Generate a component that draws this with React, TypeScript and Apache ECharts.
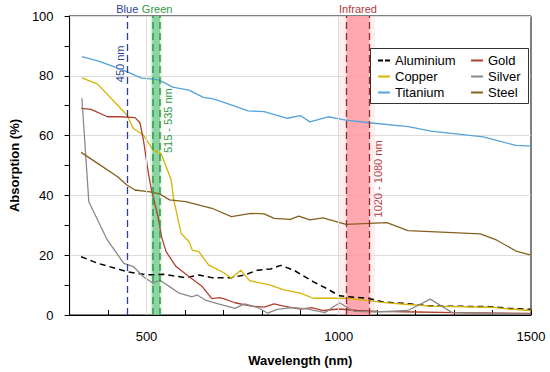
import React, { useEffect, useRef } from "react";
import * as echarts from "echarts";

// ---- data (wavelength in nm, absorption in %) ----
const wlAluminium = [330, 373, 449, 500, 543, 602, 636, 670, 721, 755, 789, 823, 849, 883, 934, 968, 1002, 1044, 1079, 1112, 1171, 1240, 1393, 1444, 1500];
const valAluminium = [19.5, 17.3, 14.5, 13.4, 13.6, 12.5, 13.4, 12.5, 12.5, 13.4, 15, 15.4, 16.6, 15, 11.1, 8.9, 6.4, 5.9, 5.5, 4.4, 3.9, 3.0, 2.8, 2.2, 1.9];

const wlCopper = [332, 373, 449, 466, 492, 517, 538, 550, 564, 571, 590, 611, 619, 636, 662, 700, 721, 745, 768, 823, 857, 900, 934, 1019, 1079, 1112, 1171, 1240, 1393, 1444, 1500];
const valCopper = [79.3, 77.2, 66.9, 62.4, 60.2, 55.2, 54, 50, 45.2, 38.5, 27.3, 24.5, 21.7, 21.2, 16.7, 14.2, 12.3, 15, 11.5, 10, 8.4, 7.3, 5.6, 5.6, 4.8, 4.2, 3.6, 3.0, 2.6, 2.0, 1.5];

const wlTitanium = [332, 373, 410, 449, 487, 526, 545, 568, 610, 648, 674, 722, 764, 806, 853, 866, 900, 925, 972, 1019, 1079, 1181, 1240, 1376, 1461, 1500];
const valTitanium = [86.4, 85, 83.3, 81.4, 79.2, 78.8, 77.8, 76.2, 75.2, 72.8, 72.3, 70.2, 68.3, 68, 66.3, 65.8, 66.7, 64.6, 66.3, 65.2, 64.3, 63, 61.5, 59.6, 56.7, 56.5];

const wlGold = [330, 356, 398, 432, 470, 483, 492, 505, 513, 530, 539, 551, 577, 611, 645, 670, 690, 700, 730, 772, 806, 832, 857, 900, 930, 960, 1000, 1050, 1100, 1200, 1300, 1500];
const valGold = [69.1, 68.8, 66.3, 66.3, 66, 64.3, 58.5, 47.4, 41.8, 32.9, 26.2, 21.2, 16.2, 12.8, 9.5, 5.5, 5.8, 5.5, 4.1, 3, 2.6, 3.7, 3, 2, 2.5, 1.5, 2, 1.5, 1.2, 1, 0.8, 0.5];

const wlSilver = [332, 350, 398, 441, 466, 492, 517, 534, 560, 585, 619, 632, 653, 687, 730, 755, 790, 815, 840, 880, 920, 964, 1002, 1040, 1100, 1180, 1238, 1295, 1400, 1500];
const valSilver = [72.5, 37.9, 25.1, 17.3, 16.2, 12.8, 10.6, 11.7, 9.5, 7.3, 6.1, 6.7, 5, 3.7, 2.2, 3.7, 2.5, 0.6, 1.9, 2.5, 2, 0.8, 4.1, 1.2, 1, 1.5, 5.3, 0.8, 0.5, 0.4];

const wlSteel = [330, 373, 424, 449, 470, 509, 534, 560, 602, 670, 721, 772, 806, 832, 874, 896, 925, 959, 1019, 1125, 1180, 1368, 1410, 1461, 1500];
const valSteel = [54.4, 50.7, 46.3, 43.5, 41.8, 41.2, 40.5, 38.5, 37.9, 35.7, 32.9, 34, 33.8, 32.3, 32, 33.1, 31.8, 32.5, 30.3, 30.9, 28.2, 27.1, 25.1, 21.4, 20];

const xTickLabels = [500, 1000, 1500];
const yTickLabels = [0, 20, 40, 60, 80, 100];
const gridXLines = [500, 1000];
const blueLine = 450;
const greenBand = [515, 535];
const infraredBand = [1020, 1080];

const FONT = "Liberation Sans, Arial, sans-serif";

const zip = (xs: number[], ys: number[]) => xs.map((x, i) => [x, ys[i]]);

const C = {
  aluminium: "#000000",
  copper: "#d4b400",
  titanium: "#55a3d8",
  gold: "#b0402e",
  silver: "#8a8a8a",
  steel: "#86601f",
  blue: "#2d3f96",
  green: "#2f9a45",
  red: "#b23a3a",
};

const SOLID_ICON = "path://M0,0H12V2H0Z";
const DASH_ICON = "path://M0,0H5V2H0Z M7,0H12V2H7Z";

function line(name: string, xs: number[], ys: number[], color: string, dashed = false) {
  return {
    name,
    type: "line",
    data: zip(xs, ys),
    showSymbol: false,
    symbol: "none",
    smooth: false,
    z: 3,
    lineStyle: { color, width: dashed ? 1.5 : 1.3, type: dashed ? [6, 4] : "solid" },
    itemStyle: { color },
  };
}

const legendText = { fontFamily: FONT, fontSize: 13, color: "#000", lineHeight: 13 };

export default function App() {
  const ref = useRef<HTMLDivElement>(null);
  useEffect(() => {
    if (!ref.current) return;
    document.body.style.margin = "0";
    const chart = echarts.init(ref.current, null, { renderer: "svg" });
    const option: any = {
      animation: false,
      textStyle: { fontFamily: FONT },
      grid: {
        left: 62, top: 16, right: 19, bottom: 57,
        show: true, borderColor: "#000", borderWidth: 1, backgroundColor: "transparent",
      },
      xAxis: {
        type: "value", min: 300, max: 1500, interval: 100,
        name: "Wavelength (nm)", nameLocation: "middle", nameGap: 39,
        nameTextStyle: { fontFamily: FONT, fontSize: 13, fontWeight: "bold", color: "#000" },
        axisLine: { show: true, lineStyle: { color: "#000", width: 1 } },
        axisTick: { show: true, inside: true, length: 5, lineStyle: { color: "#000" } },
        axisLabel: {
          margin: 15, fontSize: 13, color: "#000", fontFamily: FONT,
          formatter: (v: number) => (xTickLabels.includes(v) ? String(v) : ""),
        },
        splitLine: { show: false },
      },
      yAxis: {
        type: "value", min: 0, max: 100, interval: 20,
        name: "Absorption (%)", nameLocation: "middle", nameGap: 43,
        nameTextStyle: { fontFamily: FONT, fontSize: 13, fontWeight: "bold", color: "#000" },
        axisLine: { show: true, lineStyle: { color: "#000", width: 1 } },
        axisTick: { show: true, inside: false, length: 5, lineStyle: { color: "#000" } },
        minorTick: { show: true, splitNumber: 2, length: 5, lineStyle: { color: "#000" } },
        axisLabel: {
          margin: 16, fontSize: 13, color: "#000", fontFamily: FONT,
          formatter: (v: number) => (yTickLabels.includes(v) ? String(v) : ""),
        },
        splitLine: { show: true, lineStyle: { color: "#dcdcdc", width: 1 } },
      },
      legend: [
        {
          data: [
            { name: "Aluminium", icon: DASH_ICON },
            { name: "Copper", icon: SOLID_ICON },
            { name: "Titanium", icon: SOLID_ICON },
          ],
          orient: "vertical", left: 378, top: 54, padding: 0, itemGap: 3,
          itemWidth: 12, itemHeight: 2, z: 10, textStyle: legendText,
        },
        {
          data: [
            { name: "Gold", icon: SOLID_ICON },
            { name: "Silver", icon: SOLID_ICON },
            { name: "Steel", icon: SOLID_ICON },
          ],
          orient: "vertical", left: 471, top: 54, padding: 0, itemGap: 3,
          itemWidth: 12, itemHeight: 2, z: 10, textStyle: legendText,
        },
      ],
      series: [
        {
          name: "bands", type: "line", data: [], z: 1, silent: true,
          markArea: {
            silent: true,
            data: [
              [{ xAxis: greenBand[0] - 5, itemStyle: { color: "rgba(150,225,170,0.35)" } }, { xAxis: greenBand[1] + 5 }],
              [{ xAxis: greenBand[0], itemStyle: { color: "rgba(115,200,140,0.75)" } }, { xAxis: greenBand[1] }],
              [{ xAxis: infraredBand[0] - 20, itemStyle: { color: "rgba(255,205,212,0.35)" } }, { xAxis: infraredBand[1] + 15 }],
              [{ xAxis: infraredBand[0], itemStyle: { color: "rgba(255,150,160,0.8)" } }, { xAxis: infraredBand[1] }],
            ],
          },
          markLine: {
            silent: true, symbol: "none", label: { show: false },
            data: gridXLines.map((x) => ({ xAxis: x, lineStyle: { color: "#dcdcdc", width: 1, type: "solid" } })),
          },
        },
        line("Aluminium", wlAluminium, valAluminium, C.aluminium, true),
        line("Copper", wlCopper, valCopper, C.copper),
        line("Titanium", wlTitanium, valTitanium, C.titanium),
        line("Gold", wlGold, valGold, C.gold),
        line("Silver", wlSilver, valSilver, C.silver),
        line("Steel", wlSteel, valSteel, C.steel),
        {
          name: "markers", type: "line", data: [], z: 4, silent: true,
          markLine: {
            silent: true, symbol: "none", label: { show: false },
            data: [
              { xAxis: blueLine, lineStyle: { color: C.blue, width: 1.3, type: [7, 4] } },
              { xAxis: greenBand[0], lineStyle: { color: C.green, width: 1.5, type: [7, 4] } },
              { xAxis: greenBand[1], lineStyle: { color: C.green, width: 1.5, type: [7, 4] } },
              { xAxis: infraredBand[0], lineStyle: { color: "#8e2a2a", width: 1.3, type: [7, 4] } },
              { xAxis: infraredBand[1], lineStyle: { color: "#8e2a2a", width: 1.3, type: [7, 4] } },
            ],
          },
        },
      ],
    };
    chart.setOption(option);

    const px = (x: number, y: number) => chart.convertToPixel({ gridIndex: 0 }, [x, y]) as number[];
    const top = px(300, 100)[1];
    const pBlue = px(blueLine, 0)[0];
    const pG0 = px(greenBand[0], 0)[0];
    const pG1 = px(greenBand[1], 0)[0];
    const pI1 = px(infraredBand[1], 0)[0];
    const pIm = px((infraredBand[0] + infraredBand[1]) / 2, 0)[0];
    const small = { fontFamily: FONT, fontSize: 11, textAlign: "center", textVerticalAlign: "middle" };
    chart.setOption({
      graphic: [
        { type: "rect", z: 5, shape: { x: 370.5, y: 48.5, width: 158, height: 55 }, style: { fill: "#fff", stroke: "#333", lineWidth: 1 } },
        { type: "text", x: pBlue, y: top - 7, style: { ...small, text: "Blue", fill: C.blue } },
        { type: "text", x: (pG0 + pG1) / 2 + 1, y: top - 7, style: { ...small, text: "Green", fill: C.green } },
        { type: "text", x: pIm, y: top - 7, style: { ...small, text: "Infrared", fill: C.red } },
        { type: "text", x: pBlue - 7, y: px(0, 84)[1], rotation: Math.PI / 2, style: { ...small, text: "450 nm", fill: C.blue } },
        { type: "text", x: pG1 + 8, y: px(0, 65)[1], rotation: Math.PI / 2, style: { ...small, text: "515 - 535 nm", fill: C.green } },
        { type: "text", x: pI1 + 8, y: px(0, 45.5)[1], rotation: Math.PI / 2, style: { ...small, text: "1020 - 1080 nm", fill: C.red } },
      ],
    });
    return () => chart.dispose();
  }, []);
  return <div ref={ref} style={{ width: 550, height: 372 }} />;
}
